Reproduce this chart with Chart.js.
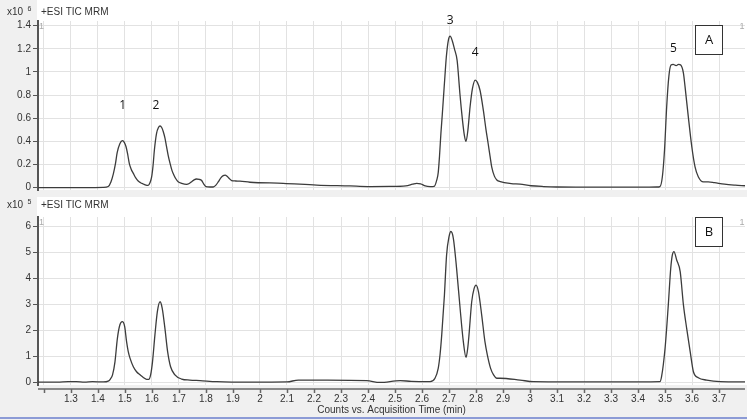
<!DOCTYPE html>
<html>
<head>
<meta charset="utf-8">
<script src="https://cdn.jsdelivr.net/npm/chart.js@4/dist/chart.umd.min.js"></script>
<style>
html, body { margin: 0; padding: 0; background: #f0f0f0; }
#wrap { position: relative; width: 747px; height: 420px; overflow: hidden; }
#chartA { position: absolute; left: 0; top: 0; }
#chartB { position: absolute; left: 0; top: 197px; }
</style>
</head>
<body>
<div id="wrap">
  <canvas id="chartA" width="747" height="197"></canvas>
  <canvas id="chartB" width="747" height="223"></canvas>
</div>
<script>
// panel A: TIC of the standard mix, counts x10^6
const timeA = [
  1.178, 1.25, 1.30, 1.36, 1.42, 1.438, 1.448, 1.457, 1.465, 1.471, 1.481, 1.491, 1.498, 1.504, 1.51, 1.516,
  1.523, 1.531, 1.54, 1.549, 1.558, 1.568, 1.578, 1.586, 1.593, 1.599, 1.604, 1.609, 1.617, 1.624, 1.63, 1.636,
  1.642, 1.648, 1.654, 1.66, 1.667, 1.674, 1.681, 1.689, 1.697, 1.71, 1.728, 1.738, 1.747, 1.756, 1.765, 1.775,
  1.784, 1.792, 1.80, 1.815, 1.827, 1.836, 1.846, 1.855, 1.864, 1.871, 1.877, 1.886, 1.895, 1.91, 1.926, 1.963,
  2.086, 2.21, 2.333, 2.40, 2.48, 2.54, 2.565, 2.58, 2.595, 2.612, 2.63, 2.645, 2.655, 2.66, 2.665, 2.67,
  2.675, 2.68, 2.685, 2.69, 2.698, 2.704, 2.712, 2.72, 2.73, 2.735, 2.74, 2.75, 2.757, 2.763, 2.77, 2.778,
  2.787, 2.797, 2.805, 2.815, 2.827, 2.837, 2.845, 2.852, 2.858, 2.868, 2.877, 2.89, 2.93, 2.963, 3.003, 3.05,
  3.10, 3.20, 3.30, 3.40, 3.47, 3.481, 3.49, 3.498, 3.506, 3.514, 3.522, 3.53, 3.541, 3.55, 3.558, 3.568,
  3.574, 3.586, 3.599, 3.611, 3.623, 3.642, 3.66, 3.683, 3.72, 3.76, 3.796
];
const countsA = [
  0.0, 0.0, 0.001, 0.0, 0.002, 0.01, 0.05, 0.12, 0.21, 0.30, 0.38, 0.406, 0.39, 0.354, 0.29, 0.21,
  0.16, 0.124, 0.085, 0.058, 0.043, 0.032, 0.022, 0.02, 0.045, 0.095, 0.19, 0.326, 0.47, 0.52, 0.533, 0.52,
  0.484, 0.43, 0.354, 0.28, 0.21, 0.15, 0.11, 0.075, 0.052, 0.038, 0.029, 0.036, 0.052, 0.068, 0.075, 0.072,
  0.062, 0.03, 0.009, 0.006, 0.006, 0.02, 0.052, 0.085, 0.104, 0.108, 0.101, 0.08, 0.062, 0.058, 0.057, 0.047,
  0.038, 0.023, 0.015, 0.01, 0.011, 0.016, 0.03, 0.038, 0.034, 0.015, 0.01, 0.012, 0.07, 0.13, 0.28, 0.47,
  0.63, 0.80, 0.97, 1.13, 1.28, 1.31, 1.27, 1.20, 1.10, 0.97, 0.82, 0.58, 0.45, 0.40, 0.50, 0.70,
  0.86, 0.93, 0.91, 0.84, 0.67, 0.50, 0.38, 0.27, 0.18, 0.10, 0.067, 0.052, 0.035, 0.03, 0.017, 0.01,
  0.006, 0.005, 0.005, 0.005, 0.006, 0.01, 0.095, 0.326, 0.70, 0.96, 1.06, 1.065, 1.055, 1.066, 1.06, 0.99,
  0.873, 0.614, 0.354, 0.18, 0.095, 0.05, 0.05, 0.043, 0.03, 0.022, 0.017
];

// panel B: TIC of the sample, counts x10^5
const timeB = [
  1.178, 1.25, 1.29, 1.32, 1.35, 1.38, 1.42, 1.438, 1.446, 1.454, 1.463, 1.472, 1.481, 1.49, 1.499, 1.506,
  1.512, 1.519, 1.531, 1.543, 1.556, 1.568, 1.58, 1.588, 1.595, 1.602, 1.611, 1.62, 1.63, 1.638, 1.648, 1.658,
  1.669, 1.685, 1.71, 1.74, 1.778, 1.84, 1.963, 2.10, 2.142, 2.25, 2.395, 2.444, 2.519, 2.56, 2.63, 2.648,
  2.66, 2.667, 2.673, 2.683, 2.691, 2.70, 2.707, 2.716, 2.728, 2.741, 2.753, 2.763, 2.769, 2.774, 2.784, 2.793,
  2.80, 2.809, 2.821, 2.833, 2.842, 2.854, 2.865, 2.877, 2.889, 2.963, 3.012, 3.20, 3.40, 3.481, 3.487, 3.50,
  3.512, 3.521, 3.527, 3.533, 3.543, 3.556, 3.568, 3.58, 3.593, 3.605, 3.623, 3.654, 3.704, 3.796
];
const countsB = [
  0.02, 0.02, 0.04, 0.04, 0.02, 0.04, 0.03, 0.06, 0.14, 0.30, 0.80, 1.70, 2.21, 2.34, 2.15, 1.57,
  1.20, 0.93, 0.61, 0.42, 0.30, 0.20, 0.13, 0.13, 0.30, 0.80, 1.83, 2.72, 3.10, 2.85, 2.08, 1.19,
  0.61, 0.30, 0.14, 0.10, 0.08, 0.04, 0.02, 0.03, 0.10, 0.10, 0.08, 0.01, 0.08, 0.05, 0.04, 0.17,
  0.55, 1.10, 1.83, 3.36, 4.89, 5.59, 5.79, 5.53, 4.38, 2.85, 1.57, 0.97, 1.30, 1.83, 3.10, 3.61,
  3.74, 3.49, 2.59, 1.57, 1.06, 0.55, 0.30, 0.17, 0.17, 0.10, 0.04, 0.03, 0.03, 0.04, 0.23, 1.32,
  2.98, 4.38, 4.89, 5.02, 4.70, 4.25, 2.98, 2.08, 1.19, 0.42, 0.19, 0.10, 0.04, 0.03
];

const xTicks = [1.2, 1.3, 1.4, 1.5, 1.6, 1.7, 1.8, 1.9, 2.0, 2.1, 2.2, 2.3, 2.4, 2.5, 2.6, 2.7, 2.8, 2.9, 3.0, 3.1, 3.2, 3.3, 3.4, 3.5, 3.6, 3.7];
const xTickLabels = ['', '1.3', '1.4', '1.5', '1.6', '1.7', '1.8', '1.9', '2', '2.1', '2.2', '2.3', '2.4', '2.5', '2.6', '2.7', '2.8', '2.9', '3', '3.1', '3.2', '3.3', '3.4', '3.5', '3.6', '3.7'];
const yTicksA = [0, 0.2, 0.4, 0.6, 0.8, 1, 1.2, 1.4];
const yTicksB = [0, 1, 2, 3, 4, 5, 6];
const peakNames = ['1', '2', '3', '4', '5'];

const FONT = '"Liberation Sans", Arial, sans-serif';

const traceDecor = {
    id: 'traceDecor',
    beforeDraw(chart) {
        const { ctx, chartArea: a, width, height } = chart;
        ctx.save();
        ctx.fillStyle = '#f0f0f0';
        ctx.fillRect(0, 0, width, height);
        ctx.fillStyle = '#ffffff';
        ctx.fillRect(37, 0, width - 37, a.bottom);
        ctx.restore();
    },
    afterDraw(chart, args, opts) {
        const { ctx, chartArea: a, scales } = chart;
        ctx.save();
        // header row
        ctx.fillStyle = '#333';
        ctx.textAlign = 'left';
        ctx.textBaseline = 'alphabetic';
        ctx.font = '10px ' + FONT;
        ctx.fillText('x10', 7, opts.headBase);
        ctx.fillText(opts.title, 41, opts.headBase);
        ctx.font = '7px ' + FONT;
        ctx.fillText(opts.exponent, 27.5, opts.headBase - 4);

        // little trace index markers
        ctx.fillStyle = '#aaa';
        ctx.font = '9px ' + FONT;
        ctx.textAlign = 'center';
        ctx.fillText('1', 41.5, a.top + 8);
        ctx.fillText('1', 742, a.top + 8);

        // panel letter box
        ctx.strokeStyle = '#333';
        ctx.lineWidth = 1;
        ctx.fillStyle = '#fff';
        ctx.fillRect(695.5, opts.boxTop + 0.5, 27, 29);
        ctx.strokeRect(695.5, opts.boxTop + 0.5, 27, 29);
        ctx.fillStyle = '#111';
        ctx.font = '13px "Open Sans", sans-serif';
        ctx.textBaseline = 'middle';
        ctx.fillText(opts.letter, 709, opts.boxTop + 15.5);

        // peak numbers
        ctx.font = '12px "Open Sans", sans-serif';
        (opts.peaks || []).forEach((p, i) => {
            ctx.fillText(peakNames[i], scales.x.getPixelForValue(p.x), scales.y.getPixelForValue(p.y));
        });

        // bottom time axis
        if (opts.timeAxis) {
            const yl = a.bottom + 4;
            ctx.strokeStyle = '#666';
            ctx.lineWidth = 1.5;
            ctx.beginPath();
            ctx.moveTo(a.left, yl);
            ctx.lineTo(a.right, yl);
            xTicks.forEach((v) => {
                const px = Math.round(scales.x.getPixelForValue(v)) + 0.5;
                ctx.moveTo(px, yl);
                ctx.lineTo(px, yl + 4);
            });
            ctx.stroke();
            ctx.fillStyle = '#333';
            ctx.font = '10px ' + FONT;
            ctx.textBaseline = 'middle';
            ctx.fillText('Counts vs. Acquisition Time (min)', (a.left + a.right) / 2, 213);
            ctx.fillStyle = '#8c9bd6';
            ctx.fillRect(0, 220, chart.width, 2);
        }
        ctx.restore();
    }
};

function panelOptions(yMin, yMax, yTicks, showTime, decor) {
    return {
        responsive: false,
        animation: false,
        layout: { padding: { top: decor.padTop, bottom: decor.padBottom, left: 0, right: 2 } },
        plugins: {
            legend: { display: false },
            tooltip: { enabled: false },
            traceDecor: decor
        },
        scales: {
            x: {
                type: 'linear',
                min: 1.178,
                max: 3.796,
                afterBuildTicks: (scale) => { scale.ticks = xTicks.map(v => ({ value: v })); },
                afterFit: (scale) => {
                    scale.height = showTime ? 35 : 0;
                    scale.paddingLeft = 0;
                    scale.paddingRight = 0;
                },
                border: { display: false },
                grid: { color: '#e2e2e2', drawTicks: false },
                ticks: {
                    display: showTime,
                    autoSkip: false,
                    maxRotation: 0,
                    padding: 8,
                    color: '#333',
                    font: { family: FONT, size: 10 },
                    callback: (v, i) => xTickLabels[i]
                }
            },
            y: {
                min: yMin,
                max: yMax,
                afterBuildTicks: (scale) => { scale.ticks = yTicks.map(v => ({ value: v })); },
                afterFit: (scale) => {
                    scale.width = 38;
                    scale.paddingTop = 0;
                    scale.paddingBottom = 0;
                },
                border: { display: true, color: '#555', width: 2 },
                grid: { color: '#e2e2e2', tickColor: '#555', tickLength: 5 },
                ticks: {
                    padding: 2,
                    color: '#333',
                    font: { family: FONT, size: 10 },
                    callback: (v) => String(v)
                }
            }
        }
    };
}

function traceDataset(times, counts) {
    return {
        data: times.map((t, i) => ({ x: t, y: counts[i] })),
        borderColor: '#3c3c3c',
        borderWidth: 1.3,
        pointRadius: 0,
        fill: false,
        cubicInterpolationMode: 'monotone'
    };
}

new Chart(document.getElementById('chartA'), {
    type: 'line',
    data: { datasets: [traceDataset(timeA, countsA)] },
    options: panelOptions(-0.0199, 1.4406, yTicksA, false, {
        padTop: 21, padBottom: 7,
        headBase: 15, title: '+ESI TIC MRM', exponent: '6',
        letter: 'A', boxTop: 25,
        timeAxis: false,
        peaks: [
            { x: 1.492, y: 0.709 },
            { x: 1.615, y: 0.709 },
            { x: 2.704, y: 1.443 },
            { x: 2.797, y: 1.17 },
            { x: 3.531, y: 1.205 }
        ]
    }),
    plugins: [traceDecor]
});

new Chart(document.getElementById('chartB'), {
    type: 'line',
    data: { datasets: [traceDataset(timeB, countsB)] },
    options: panelOptions(-0.088, 6.345, yTicksB, true, {
        padTop: 20, padBottom: 0,
        headBase: 10.5, title: '+ESI TIC MRM', exponent: '5',
        letter: 'B', boxTop: 20,
        timeAxis: true
    }),
    plugins: [traceDecor]
});
</script>
</body>
</html>
